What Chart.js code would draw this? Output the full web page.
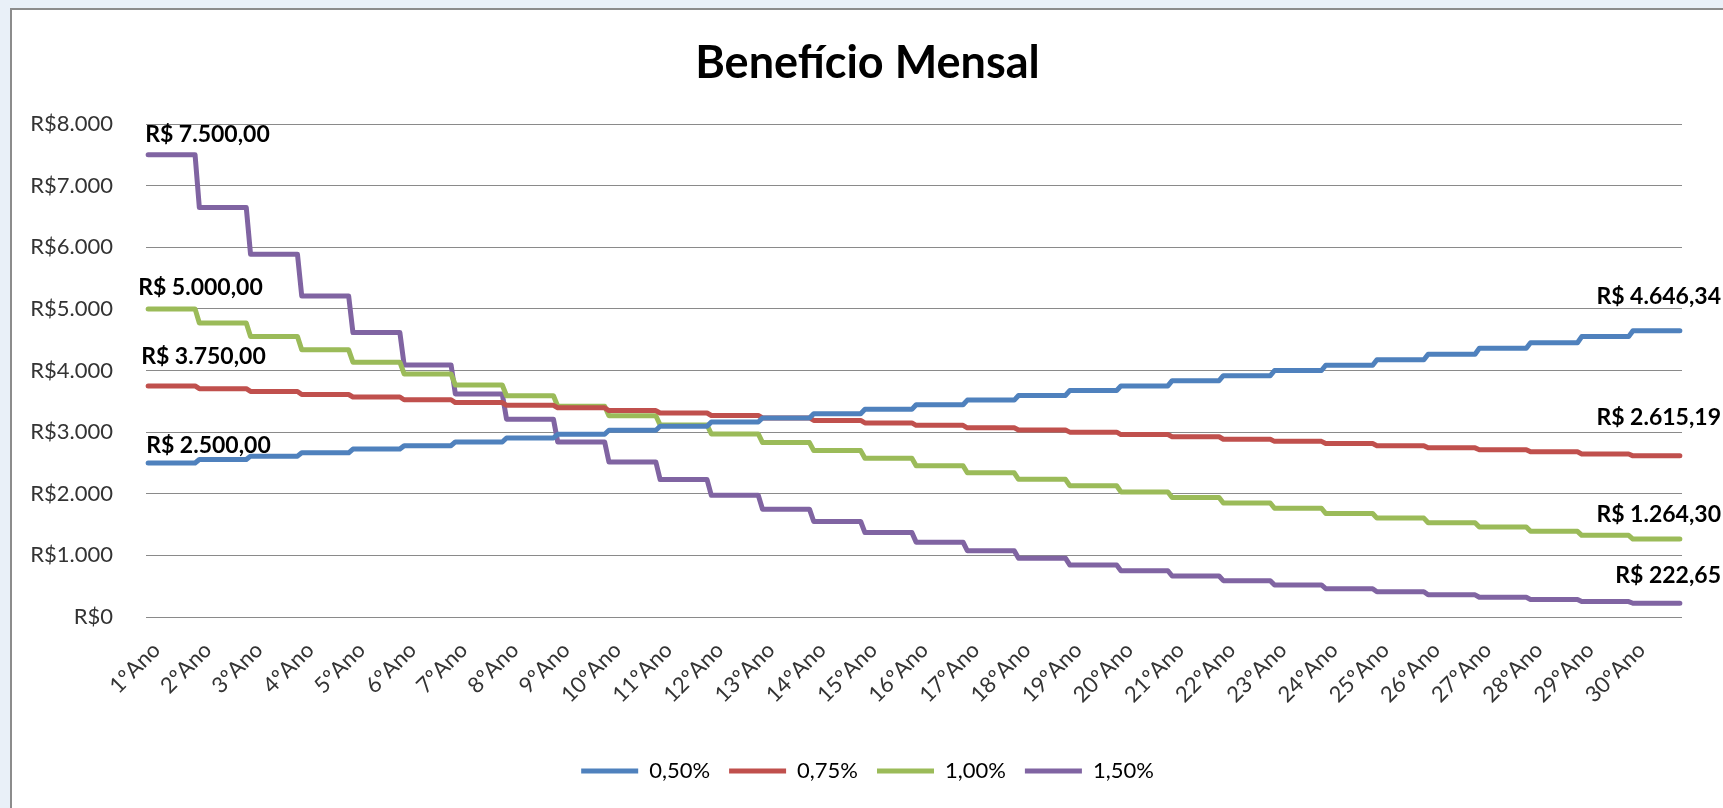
<!DOCTYPE html>
<html>
<head>
<meta charset="utf-8">
<script src="https://cdn.jsdelivr.net/npm/chart.js@4/dist/chart.umd.min.js"></script>
<style>
  html, body { margin: 0; padding: 0; width: 1723px; height: 808px; overflow: hidden; background: #e9f0f8; }
  #box { position: absolute; left: 10px; top: 8px; right: 0; bottom: 0; background: #fff;
         border-left: 2px solid #8c8c8c; border-top: 2px solid #8c8c8c; }
  #wrap { position: relative; width: 1711px; height: 798px; }
</style>
</head>
<body>
<div id="box"><div id="wrap"><canvas id="chart"></canvas></div></div>
<script>
// categories (one per year, each year has 12 monthly points)
const years = ["1ºAno", "2ºAno", "3ºAno", "4ºAno", "5ºAno", "6ºAno", "7ºAno", "8ºAno", "9ºAno", "10ºAno",
  "11ºAno", "12ºAno", "13ºAno", "14ºAno", "15ºAno", "16ºAno", "17ºAno", "18ºAno", "19ºAno", "20ºAno",
  "21ºAno", "22ºAno", "23ºAno", "24ºAno", "25ºAno", "26ºAno", "27ºAno", "28ºAno", "29ºAno", "30ºAno"];

const seriesNames = ["0,50%", "0,75%", "1,00%", "1,50%"];

// yearly benefit values
const taxa050 = [2500, 2555, 2610, 2665, 2725, 2780, 2840, 2905, 2965, 3030,
  3095, 3165, 3230, 3300, 3370, 3445, 3520, 3595, 3675, 3750,
  3835, 3915, 4000, 4085, 4175, 4265, 4360, 4450, 4550, 4646.34];
const taxa075 = [3750, 3705, 3660, 3610, 3570, 3525, 3480, 3435, 3395, 3350,
  3310, 3270, 3230, 3190, 3150, 3110, 3070, 3035, 3000, 2960,
  2925, 2885, 2850, 2815, 2780, 2745, 2715, 2680, 2645, 2615.19];
const taxa100 = [5000, 4770, 4550, 4335, 4135, 3945, 3765, 3590, 3420, 3265,
  3115, 2970, 2830, 2700, 2575, 2455, 2340, 2235, 2130, 2030,
  1940, 1850, 1765, 1680, 1605, 1530, 1460, 1390, 1325, 1264.30];
const taxa150 = [7500, 6645, 5885, 5210, 4615, 4090, 3620, 3210, 2840, 2515,
  2230, 1975, 1750, 1550, 1370, 1215, 1075, 955, 845, 750,
  665, 590, 520, 460, 410, 360, 320, 285, 250, 222.65];

const yTicks = [0, 1000, 2000, 3000, 4000, 5000, 6000, 7000, 8000];

const MONTHS = 12;
const LABEL_MONTH = 2;
const monthLabels = years.flatMap(y => Array(MONTHS).fill(y));
const monthly = vals => vals.flatMap(v => Array(MONTHS).fill(v));

const thousands = s => s.replace(/\B(?=(\d{3})+(?!\d))/g, ".");
const money = v => {
  const [int, dec] = v.toFixed(2).split(".");
  return "R$ " + thousands(int) + "," + dec;
};

const FONT = "Lato";

// data labels on first and last point of every line
const endLabels = {
  id: "endLabels",
  afterDatasetsDraw(chart) {
    const ctx = chart.ctx;
    ctx.save();
    ctx.font = "bold 23px " + FONT;
    ctx.fillStyle = "#000";
    ctx.textBaseline = "middle";
    chart.data.datasets.forEach((ds, i) => {
      const pts = chart.getDatasetMeta(i).data;
      const first = pts[0];
      const last = pts[pts.length - 1];
      ctx.textAlign = "left";
      ctx.fillText(money(ds.data[0]), first.x + ds.firstLabel[0], first.y + ds.firstLabel[1]);
      ctx.textAlign = "right";
      ctx.fillText(money(ds.data[ds.data.length - 1]), chart.width - 2, last.y + ds.lastLabelDy);
    });
    ctx.restore();
  }
};

const colors = ["#4f81bd", "#c0504d", "#9bbb59", "#8064a2"];
const values = [taxa050, taxa075, taxa100, taxa150];
const firstOffsets = [[-2, -17], [-7, -29], [-10, -21], [-3, -20]];
const lastOffsets = [-34, -38, -25, -28];

const ctx = document.getElementById("chart").getContext("2d");
const chart = new Chart(ctx, {
  type: "line",
  data: {
    labels: monthLabels,
    datasets: seriesNames.map((name, i) => ({
      label: name,
      data: monthly(values[i]),
      borderColor: colors[i],
      backgroundColor: colors[i],
      borderWidth: 5,
      borderCapStyle: "round",
      borderJoinStyle: "round",
      pointRadius: 0,
      tension: 0,
      firstLabel: firstOffsets[i],
      lastLabelDy: lastOffsets[i]
    }))
  },
  plugins: [endLabels],
  options: {
    responsive: true,
    maintainAspectRatio: false,
    animation: false,
    layout: { padding: { left: 0, right: 0, top: 0, bottom: 16 } },
    plugins: {
      title: {
        display: true,
        text: "Benefício Mensal",
        color: "#000",
        font: { family: FONT, size: 45, weight: "bold" },
        padding: { top: 26, bottom: 34 }
      },
      legend: {
        position: "bottom",
        labels: {
          boxWidth: 57,
          boxHeight: 5,
          padding: 19,
          color: "#333",
          font: { family: FONT, size: 22 },
          generateLabels: (c) => c.data.datasets.map((ds, i) => ({
            text: ds.label,
            fillStyle: ds.borderColor,
            strokeStyle: ds.borderColor,
            lineWidth: 0,
            datasetIndex: i,
            hidden: false
          }))
        }
      },
      tooltip: { enabled: false }
    },
    scales: {
      x: {
        offset: true,
        grid: { display: false, drawTicks: false },
        border: { display: false },
        ticks: {
          autoSkip: false,
          minRotation: 45,
          maxRotation: 45,
          padding: 20,
          color: "#333",
          font: { family: FONT, size: 22 },
          callback: (v, i) => (i % MONTHS === LABEL_MONTH ? monthLabels[i] : "")
        },
        afterFit: (s) => { s.height = 124; }
      },
      y: {
        min: yTicks[0],
        max: yTicks[yTicks.length - 1],
        grid: { color: "#8a8a8a", lineWidth: 1, drawTicks: false },
        border: { display: false },
        afterBuildTicks: (s) => { s.ticks = yTicks.map(v => ({ value: v })); },
        ticks: {
          padding: 33,
          color: "#333",
          font: { family: FONT, size: 22 },
          callback: (v) => "R$" + thousands(String(v))
        },
        afterFit: (s) => { s.width = 134; }
      },
      yRight: {
        position: "right",
        grid: { display: false, drawTicks: false },
        border: { display: false },
        ticks: { display: false },
        afterFit: (s) => { s.width = 41; }
      }
    }
  }
});
</script>
</body>
</html>
